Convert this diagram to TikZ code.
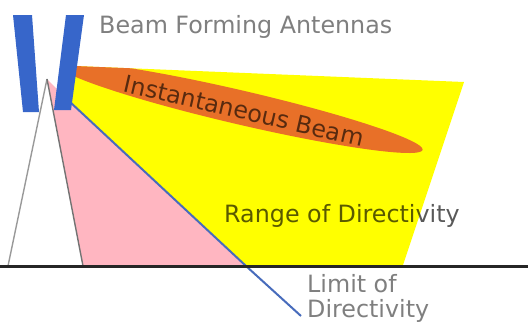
\documentclass[tikz,border=0pt]{standalone}
\usepackage{fontspec}
\setmainfont{DejaVu Sans}
\definecolor{beamyellow}{RGB}{255,255,0}
\definecolor{beamorange}{RGB}{232,112,40}
\definecolor{antblue}{RGB}{55,102,202}
\definecolor{pinkfill}{RGB}{255,182,193}
\definecolor{lineblue}{RGB}{72,108,188}
\begin{document}
\begin{tikzpicture}[x=1pt,y=-1pt,
  lbl/.style={inner sep=0pt, text=black, text opacity=0.5, font=\fontsize{23.8}{28}\selectfont},
  bar/.style={fill=antblue},
  side/.style={draw=black!45, line width=1.4pt}]
\useasboundingbox (0,0) rectangle (528,324);
% key points
\coordinate (apex) at (47,79);
\coordinate (tl) at (8,266);
\coordinate (tr) at (83,266);
\coordinate (ls) at (70,102);
\coordinate (lg) at (246,266);
\coordinate (le) at (301,316);
% range of directivity
\fill[beamyellow] (75,66) -- (464,82) -- (403,265) -- (lg) -- (ls) -- cycle;
% instantaneous beam (kept inside the range)
\begin{scope}
\clip (75,66) -- (464,82) -- (403,265) -- (lg) -- (ls) -- cycle;
\fill[beamorange, rotate around={-13.1:(240.5,107.5)}] (240.5,107.5) ellipse [x radius=187, y radius=17];
\end{scope}
% pink area
\fill[pinkfill] (apex) -- (tr) -- (lg) -- (ls) -- cycle;
% triangle
\draw[side, draw=black!40] (tl) -- (apex);
\draw[side, draw=black!55] (apex) -- (tr);
% limit of directivity
\draw[lineblue, line width=2pt] (ls) -- (lg) -- (le);
% antennas
\fill[bar] (13,15) -- (32,15) -- (39,112) -- (23,112) -- cycle;
\fill[bar] (66,15) -- (84,15) -- (71,110) -- (54,110) -- cycle;
% ground
\draw[black!85, line width=2.5pt] (0,266.5) -- (528,266.5);
% labels
\node[lbl, anchor=base west] (ant) at (99,34) {Beam Forming Antennas};
\node[lbl, text opacity=0.62, rotate=-13] (inst) at (244,111) {Instantaneous Beam};
\node[lbl, text opacity=0.65, anchor=base west] (range) at (224,222) {Range of Directivity};
\node[lbl, anchor=base west] (lim1) at (307,292) {Limit of};
\node[lbl, anchor=base west] (lim2) at (307,317) {Directivity};
\end{tikzpicture}
\end{document}
